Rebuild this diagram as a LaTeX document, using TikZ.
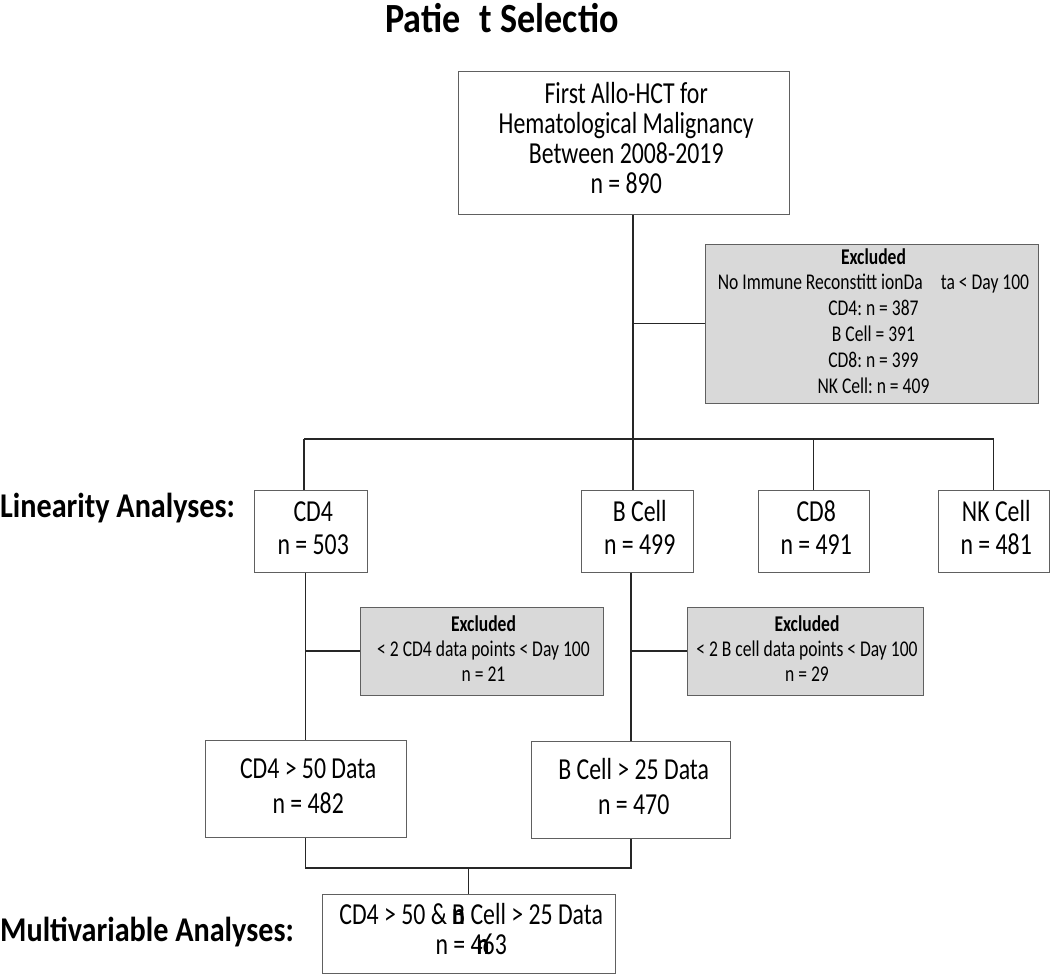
\documentclass[tikz,border=0pt]{standalone}
\usepackage{fontspec}
\setmainfont{Carlito}[FakeStretch=0.78]
\newfontfamily\labelfont{Carlito}[FakeStretch=0.87]
\usepackage{xcolor}
\usepackage{tikz}
\definecolor{selectgray}{RGB}{217,217,217}
\definecolor{selectedge}{RGB}{96,96,96}
\newcommand{\boxfont}[1]{\fontsize{30.5}{#1}\selectfont}
\newcommand{\exclfont}[1]{\fontsize{22.5}{#1}\selectfont}
\frenchspacing

\begin{document}
\begin{tikzpicture}[x=1pt, y=-1pt,
    box/.style={draw=selectedge, fill=white, line width=1pt, inner sep=0pt},
    exclbox/.style={box, fill=selectgray},
    link/.style={draw=black!85, line width=1.3pt},
    sidelabel/.style={anchor=west, inner sep=0pt, font=\labelfont\fontsize{34.7}{40}\selectfont\bfseries}]
    \useasboundingbox (0,0) rectangle (1050,977);

    % Title
    \node[inner sep=0pt, font=\labelfont\fontsize{41.5}{46}\selectfont\bfseries] (title) at (502,18) {Patie\phantom{n}t Selectio};

    % Cohort
    \node[box, minimum width=331pt, minimum height=143pt] (top) at (623.5,142.5) {\boxfont{29.5}
        \begin{tabular}{@{}c@{}}
        First Allo-HCT for\\
        Hematological Malignancy\\
        Between 2008-2019\\
        n = 890
        \end{tabular}
    };

    % First exclusion
    \node[exclbox, minimum width=333pt, minimum height=159pt] (excl) at (871.5,323.5) {\exclfont{25.8}
        \begin{tabular}{@{}c@{}}
        \textbf{Excluded}\\
        No Immune Reconstitt ionDa\hspace{0.8em}ta < Day 100\\
        CD4: n = 387\\
        B Cell = 391\\
        CD8: n = 399\\
        NK Cell: n = 409
        \end{tabular}
    };

    % Linearity analyses
    \node[sidelabel] (linlabel) at (0,508) {Linearity Analyses:};
    \node[box, minimum width=113pt, minimum height=82pt] (cdfour) at (310.5,531) {\boxfont{33}
        \begin{tabular}{@{}c@{}}CD4\\ n = 503\end{tabular}};
    \node[box, minimum width=112pt, minimum height=82pt] (bcell) at (637,531) {\boxfont{33}
        \begin{tabular}{@{}c@{}}B Cell\\ n = 499\end{tabular}};
    \node[box, minimum width=111pt, minimum height=82pt] (cdeight) at (813.5,531) {\boxfont{33}
        \begin{tabular}{@{}c@{}}CD8\\ n = 491\end{tabular}};
    \node[box, minimum width=111pt, minimum height=82pt] (nkcell) at (993.5,531) {\boxfont{33}
        \begin{tabular}{@{}c@{}}NK Cell\\ n = 481\end{tabular}};

    % Second exclusions
    \node[exclbox, minimum width=243pt, minimum height=88pt] (exclcd) at (481.5,651) {\exclfont{25}
        \begin{tabular}{@{}c@{}}
        \textbf{Excluded}\\
        < 2 CD4 data points < Day 100\\
        n = 21
        \end{tabular}
    };
    \node[exclbox, minimum width=236pt, minimum height=88pt] (exclb) at (805,651) {\exclfont{25}
        \begin{tabular}{@{}c@{}}
        \textbf{Excluded}\\
        < 2 B cell data points < Day 100\\
        n = 29
        \end{tabular}
    };

    % Data thresholds
    \node[box, minimum width=201pt, minimum height=97pt] (cdfifty) at (305.5,788.5) {\boxfont{35}
        \begin{tabular}{@{}c@{}}CD4 > 50 Data\\ n = 482\end{tabular}};
    \node[box, minimum width=199pt, minimum height=97pt] (bcellff) at (631,789.5) {\boxfont{35}
        \begin{tabular}{@{}c@{}}B Cell > 25 Data\\ n = 470\end{tabular}};

    % Multivariable analyses
    \node[sidelabel] (multlabel) at (0,932) {Multivariable Analyses:};
    \node[box, minimum width=293pt, minimum height=79pt] (both) at (468.5,933.5) {\boxfont{30}
        \begin{tabular}{@{}c@{}}
        CD4 > 50 \&\,\rlap{\textbf{n}}B Cell > 25 Data\\
        n = 4\kern-0.2em\rlap{\textbf{n}}\kern0.2em 63
        \end{tabular}
    };

    % Connecting lines
    \coordinate (barleft) at (304,439);
    \coordinate (trunk) at (633,439);
    \coordinate (merge) at (468.5,868);
    \draw[link] (top.south -| trunk) -- (trunk);
    \draw[link] (excl.west) -- (excl.west -| trunk);
    \draw[link] (barleft) -- (barleft -| nkcell.north);
    \draw[link] (barleft) -- (barleft |- cdfour.north);
    \draw[link] (trunk) -- (trunk |- bcell.north);
    \draw[link] (cdeight.north |- trunk) -- (cdeight.north);
    \draw[link] (nkcell.north |- trunk) -- (nkcell.north);
    \draw[link] (cdfifty.north |- cdfour.south) -- (cdfifty.north);
    \draw[link] (exclcd.west) -- (exclcd.west -| cdfifty.north);
    \draw[link] (bcellff.north |- bcell.south) -- (bcellff.north);
    \draw[link] (exclb.west) -- (exclb.west -| bcellff.north);
    \draw[link] (cdfifty.south) |- (merge) -| (bcellff.south);
    \draw[link] (merge) -- (both.north);
\end{tikzpicture}
\end{document}
